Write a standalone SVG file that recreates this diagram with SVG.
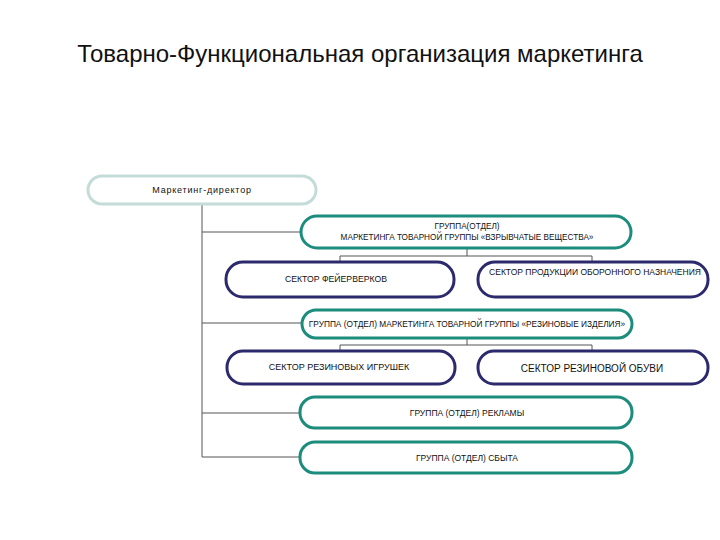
<svg xmlns="http://www.w3.org/2000/svg" width="720" height="540" viewBox="0 0 720 540">
<style>
.t{font-family:"Liberation Sans",Arial,sans-serif;fill:#111;text-anchor:middle}
.s{font-size:8.5px}
.teal{fill:#fff;stroke:#1c8c7c;stroke-width:3}
.navy{fill:#fff;stroke:#2c2a6c;stroke-width:3}
.lite{fill:#fff;stroke:#c4dcd8;stroke-width:3}
.c{fill:none;stroke:#555;stroke-width:1}
</style>
<rect width="720" height="540" fill="#fff"/>
<text class="t" x="360" y="62" font-size="24">Товарно-Функциональная организация маркетинга</text>
<g id="connectors">
<path class="c" d="M202 204V457M202 232H301M202 323H302M202 413H300M202 457H300"/>
<path class="c" d="M467 248V256M340 263V256H592V263"/>
<path class="c" d="M467 338V345M340 352V345H592V352"/>
</g>
<g id="director">
<rect class="lite" x="88" y="176" width="228" height="28" rx="14"/>
<text class="t" x="202" y="193" font-size="9" letter-spacing="0.8">Маркетинг-директор</text>
</g>
<g id="explosives">
<rect class="teal" x="301" y="216" width="330" height="32" rx="16"/>
<text class="t" x="467" y="229" font-size="8.2">ГРУППА(ОТДЕЛ)</text>
<text class="t" x="467" y="240" font-size="8.2">МАРКЕТИНГА ТОВАРНОЙ ГРУППЫ «ВЗРЫВЧАТЫЕ ВЕЩЕСТВА»</text>
</g>
<g id="fireworks">
<rect class="navy" x="226" y="262" width="228" height="35" rx="17"/>
<text class="t" x="336" y="282" font-size="8.7">СЕКТОР ФЕЙЕРВЕРКОВ</text>
</g>
<g id="defense">
<rect class="navy" x="478" y="262" width="230" height="35" rx="17"/>
<text class="t s" x="595" y="275">СЕКТОР ПРОДУКЦИИ ОБОРОННОГО НАЗНАЧЕНИЯ</text>
</g>
<g id="rubber">
<rect class="teal" x="302" y="310" width="330" height="28" rx="14"/>
<text class="t" x="467" y="327" font-size="8.3">ГРУППА (ОТДЕЛ) МАРКЕТИНГА ТОВАРНОЙ ГРУППЫ «РЕЗИНОВЫЕ ИЗДЕЛИЯ»</text>
</g>
<g id="toys">
<rect class="navy" x="227" y="351" width="228" height="33" rx="16"/>
<text class="t" x="339" y="370" font-size="9">СЕКТОР РЕЗИНОВЫХ ИГРУШЕК</text>
</g>
<g id="shoes">
<rect class="navy" x="478" y="351" width="230" height="33" rx="16"/>
<text class="t" x="592" y="372" font-size="10">СЕКТОР РЕЗИНОВОЙ ОБУВИ</text>
</g>
<g id="ads">
<rect class="teal" x="300" y="397" width="332" height="31" rx="15"/>
<text class="t s" x="467" y="416">ГРУППА (ОТДЕЛ) РЕКЛАМЫ</text>
</g>
<g id="sales">
<rect class="teal" x="300" y="442" width="332" height="31" rx="15"/>
<text class="t s" x="467" y="461">ГРУППА (ОТДЕЛ) СБЫТА</text>
</g>
</svg>
